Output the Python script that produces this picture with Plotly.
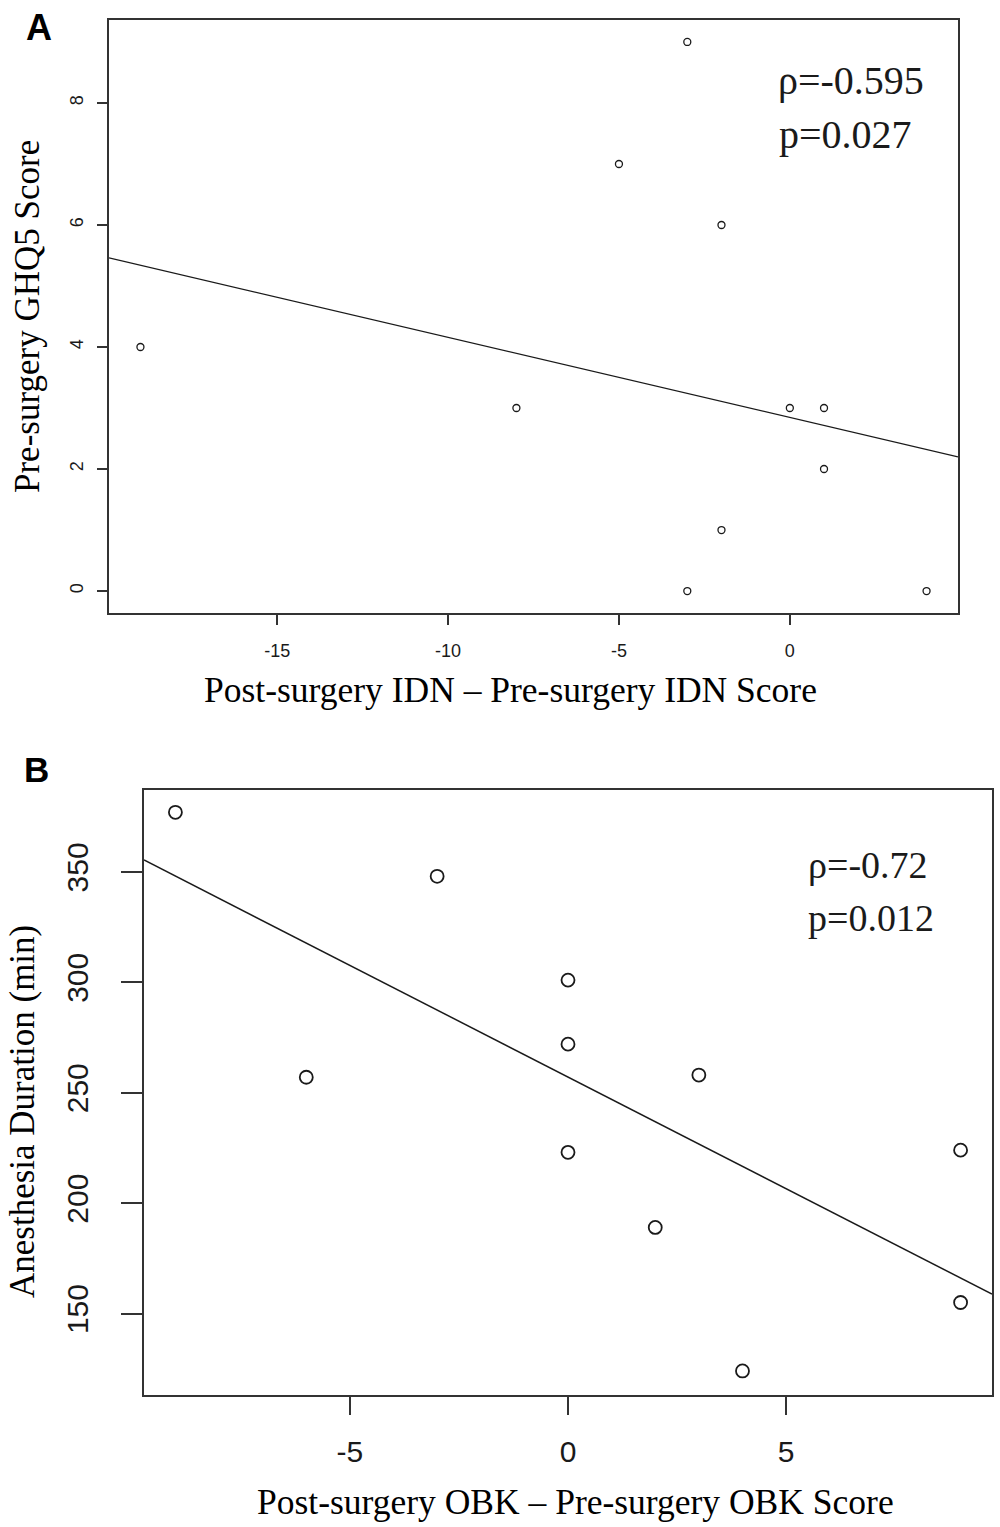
import plotly.graph_objects as go

# ---------------- Data ----------------
# Panel A
a_x = [-3, -5, -2, -19, -8, 0, 1, 1, -2, -3, 4]
a_y = [9, 7, 6, 4, 3, 3, 3, 2, 1, 0, 0]
a_fit_x = [-19.92, 4.92]
a_fit_y = [5.46, 2.20]
a_xticks = [-15, -10, -5, 0]
a_xticklabels = ["-15", "-10", "-5", "0"]
a_yticks = [0, 2, 4, 6, 8]
a_yticklabels = ["0", "2", "4", "6", "8"]
a_stats = ["ρ=-0.595", "p=0.027"]

# Panel B
b_x = [-9, -3, -6, 0, 0, 0, 2, 3, 4, 9, 9]
b_y = [377, 348, 257, 301, 272, 223, 189, 258, 124, 224, 155]
b_fit_x = [-9.72, 9.72]
b_fit_y = [355.4, 158.8]
b_xticks = [-5, 0, 5]
b_xticklabels = ["-5", "0", "5"]
b_yticks = [150, 200, 250, 300, 350]
b_yticklabels = ["150", "200", "250", "300", "350"]
b_stats = ["ρ=-0.72", "p=0.012"]

W, H = 1000, 1527
SERIF = "Liberation Serif, Times New Roman, serif"
SANS = "Liberation Sans, Arial, sans-serif"
INK = "#1a1a1a"
FRAME = "#333333"


def px_x(p):
    return p / W


def px_y(p):
    return 1 - p / H


fig = go.Figure()

fig.add_trace(go.Scatter(
    x=a_x, y=a_y, mode="markers", xaxis="x", yaxis="y",
    marker=dict(symbol="circle-open", size=7, color=INK, line=dict(width=1.3, color=INK)),
    showlegend=False, hoverinfo="skip"))
fig.add_trace(go.Scatter(
    x=a_fit_x, y=a_fit_y, mode="lines", xaxis="x", yaxis="y",
    line=dict(color=INK, width=1.3), showlegend=False, hoverinfo="skip"))

fig.add_trace(go.Scatter(
    x=b_x, y=b_y, mode="markers", xaxis="x2", yaxis="y2",
    marker=dict(symbol="circle-open", size=13, color=INK, line=dict(width=1.8, color=INK)),
    showlegend=False, hoverinfo="skip"))
fig.add_trace(go.Scatter(
    x=b_fit_x, y=b_fit_y, mode="lines", xaxis="x2", yaxis="y2",
    line=dict(color=INK, width=1.5), showlegend=False, hoverinfo="skip"))

axis_common = dict(showline=True, mirror=True, linecolor=FRAME, linewidth=1.6,
                   showgrid=False, zeroline=False, ticks="outside",
                   tickcolor=FRAME, tickwidth=1.6, tickmode="array")

fig.update_layout(
    width=W, height=H,
    margin=dict(l=0, r=0, t=0, b=0),
    paper_bgcolor="white", plot_bgcolor="white",
    xaxis=dict(axis_common, domain=[px_x(109), px_x(958)], range=[-19.92, 4.92],
               tickvals=a_xticks, ticktext=a_xticklabels, ticklen=10, ticklabelstandoff=11,
               tickfont=dict(family=SANS, size=18, color=INK), anchor="y"),
    yaxis=dict(axis_common, domain=[px_y(613), px_y(20)], range=[-0.36, 9.36],
               tickvals=a_yticks, ticktext=a_yticklabels, ticklen=10, tickangle=-90,
               ticklabelstandoff=7,
               tickfont=dict(family=SANS, size=18, color=INK), anchor="x"),
    xaxis2=dict(axis_common, domain=[px_x(144), px_x(992)], range=[-9.72, 9.72],
                tickvals=b_xticks, ticktext=b_xticklabels, ticklen=18, ticklabelstandoff=11,
                tickfont=dict(family=SANS, size=30, color=INK), anchor="y2"),
    yaxis2=dict(axis_common, domain=[px_y(1395), px_y(790)], range=[113.1, 387.1],
                tickvals=b_yticks, ticktext=b_yticklabels, ticklen=21, tickangle=-90,
                ticklabelstandoff=21,
                tickfont=dict(family=SANS, size=30, color=INK), anchor="x2"),
)

annotations = [
    # panel letters
    dict(text="<b>A</b>", x=px_x(39), y=px_y(27), font=dict(family=SANS, size=36, color="black")),
    dict(text="<b>B</b>", x=px_x(36), y=px_y(770), font=dict(family=SANS, size=35, color="black")),
    # axis titles A
    dict(text="Post-surgery IDN – Pre-surgery IDN Score", x=px_x(510), y=px_y(690),
         font=dict(family=SERIF, size=35.5, color="black")),
    dict(text="Pre-surgery GHQ5 Score", x=px_x(27), y=px_y(317), textangle=-90,
         font=dict(family=SERIF, size=35, color="black")),
    # axis titles B
    dict(text="Post-surgery OBK – Pre-surgery OBK Score", x=px_x(575), y=px_y(1502),
         font=dict(family=SERIF, size=35.5, color="black")),
    dict(text="Anesthesia Duration (min)", x=px_x(22), y=px_y(1112), textangle=-90,
         font=dict(family=SERIF, size=35, color="black")),
    # stats A
    dict(text=a_stats[0], x=px_x(776), y=px_y(80), xanchor="left",
         font=dict(family=SERIF, size=40, color=INK)),
    dict(text=a_stats[1], x=px_x(777), y=px_y(134), xanchor="left",
         font=dict(family=SERIF, size=40, color=INK)),
    # stats B
    dict(text=b_stats[0], x=px_x(806), y=px_y(865), xanchor="left",
         font=dict(family=SERIF, size=38, color=INK)),
    dict(text=b_stats[1], x=px_x(806), y=px_y(918), xanchor="left",
         font=dict(family=SERIF, size=38, color=INK)),
]
for a in annotations:
    a.setdefault("xanchor", "center")
    a.update(xref="paper", yref="paper", yanchor="middle", showarrow=False)
fig.update_layout(annotations=annotations)

fig.write_html("out.html",
               config={"displayModeBar": False},
               post_script="document.body.style.margin='0';document.body.style.overflow='hidden';")
